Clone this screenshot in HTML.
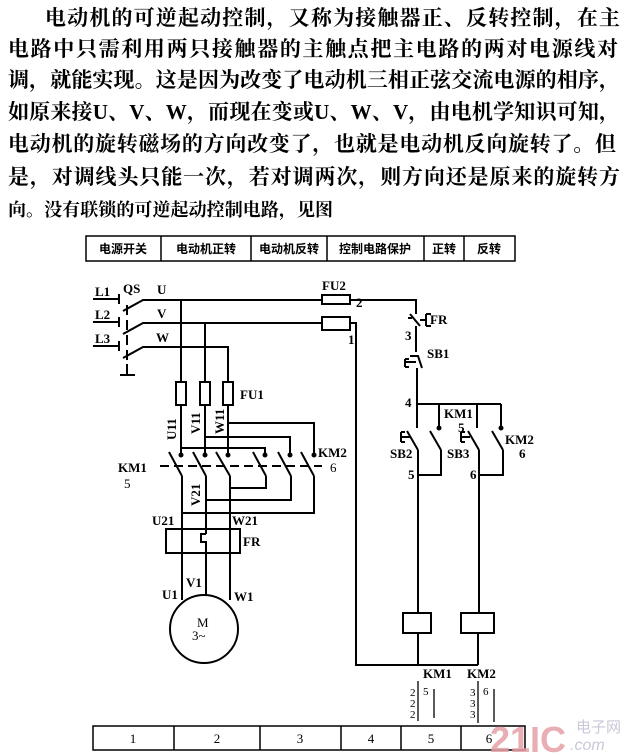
<!DOCTYPE html>
<html><head><meta charset="utf-8"><style>
html,body{margin:0;padding:0;background:#fff;}
svg{display:block;}
.t{font-family:"Liberation Serif","Noto Serif CJK SC",serif;font-size:21px;font-weight:bold;fill:#000;}
.l{font-family:"Liberation Serif",serif;font-size:13px;font-weight:bold;fill:#000;}
.h{font-family:"Liberation Sans","Noto Sans CJK SC",sans-serif;font-size:12px;font-weight:bold;fill:#000;}
</style></head><body>
<svg width="630" height="755" viewBox="0 0 630 755" xmlns="http://www.w3.org/2000/svg">
<g class="t">
<text x="45" y="25" textLength="575" lengthAdjust="spacing">电动机的可逆起动控制，又称为接触器正、反转控制，在主</text>
<text x="8" y="56" textLength="610" lengthAdjust="spacing">电路中只需利用两只接触器的主触点把主电路的两对电源线对</text>
<text x="8" y="87" textLength="612" lengthAdjust="spacing">调，就能实现。这是因为改变了电动机三相正弦交流电源的相序，</text>
<text x="8" y="119" textLength="612" lengthAdjust="spacing">如原来接U、V、W，而现在变或U、W、V，由电机学知识可知，</text>
<text x="8" y="151" textLength="608" lengthAdjust="spacing">电动机的旋转磁场的方向改变了，也就是电动机反向旋转了。但</text>
<text x="8" y="184" textLength="612" lengthAdjust="spacing">是，对调线头只能一次，若对调两次，则方向还是原来的旋转方</text>
<text x="8" y="216" font-size="18" textLength="325" lengthAdjust="spacing">向。没有联锁的可逆起动控制电路，见图</text>
</g>
<g fill="none" stroke="#000" stroke-width="1.5">
<rect x="86" y="236" width="429" height="25"/>
<line x1="161" y1="236" x2="161" y2="261"/><line x1="251" y1="236" x2="251" y2="261"/>
<line x1="327" y1="236" x2="327" y2="261"/><line x1="424" y1="236" x2="424" y2="261"/>
<line x1="464" y1="236" x2="464" y2="261"/>
</g>
<g class="h" text-anchor="middle">
<text x="123" y="253">电源开关</text><text x="206" y="253">电动机正转</text><text x="289" y="253">电动机反转</text>
<text x="375" y="253">控制电路保护</text><text x="444" y="253">正转</text><text x="489" y="253">反转</text>
</g>
<g fill="none" stroke="#000" stroke-width="2">
<line x1="93" y1="299" x2="119" y2="299"/><line x1="119" y1="294" x2="119" y2="304"/>
<line x1="93" y1="322" x2="119" y2="322"/><line x1="119" y1="317" x2="119" y2="327"/>
<line x1="93" y1="346" x2="119" y2="346"/><line x1="119" y1="341" x2="119" y2="351"/>
<polyline points="123,311 143,300 322,300"/>
<polyline points="123,334 143,323 322,323"/>
<polyline points="123,358 143,347 228,347 228,455"/>
<line x1="127" y1="305" x2="127" y2="366" stroke-dasharray="10,5"/>
<line x1="127" y1="364" x2="127" y2="375"/><line x1="120" y1="375" x2="135" y2="375"/>
<line x1="181" y1="300" x2="181" y2="455"/>
<line x1="205" y1="323" x2="205" y2="455"/>
<rect x="176" y="382" width="10" height="23" fill="#fff"/>
<rect x="200" y="382" width="10" height="23" fill="#fff"/>
<rect x="223" y="382" width="10" height="23" fill="#fff"/>
<polyline points="228,423 314,423 314,455"/>
<polyline points="205,437 290,437 290,455"/>
<polyline points="181,448 265,448 265,455"/>
<line x1="169" y1="452" x2="182" y2="476"/><line x1="193" y1="452" x2="206" y2="476"/><line x1="216" y1="452" x2="230" y2="476"/>
<line x1="253" y1="452" x2="266" y2="476"/><line x1="278" y1="452" x2="291" y2="476"/><line x1="301" y1="452" x2="314" y2="476"/>
<line x1="160" y1="466" x2="322" y2="466" stroke-dasharray="9,5"/>
<polyline points="266,476 266,488 230,488"/>
<polyline points="291,476 291,500 206,500"/>
<polyline points="314,476 314,513 182,513"/>
<line x1="182" y1="476" x2="182" y2="600"/>
<line x1="206" y1="476" x2="206" y2="534"/>
<path d="M206,534 h-5 v8 h5 v11"/>
<line x1="206" y1="553" x2="206" y2="595"/>
<line x1="230" y1="476" x2="230" y2="600"/>
<rect x="166" y="529" width="74" height="24"/>
<circle cx="204" cy="629" r="34" fill="#fff"/>
<rect x="322" y="295" width="28" height="9"/>
<rect x="322" y="317" width="28" height="13"/>
<polyline points="350,300 416,300 416,306"/>
<polyline points="350,323 356,323 356,665 478,665"/>
<line x1="416" y1="306" x2="416" y2="314"/><line x1="410" y1="314" x2="420" y2="326"/>
<path d="M420,320 h6 M426,314 v12 M426,314 h5 M426,326 h5 M408,318 h4"/>
<line x1="416" y1="326" x2="416" y2="352"/>
<path d="M410,356 h8 l4,12 M416,362 h-10 M405,359 v8 M405,359 h4 M405,367 h4"/>
<line x1="417" y1="368" x2="417" y2="428"/>
<line x1="416" y1="404" x2="501" y2="404"/>
<line x1="439" y1="404" x2="439" y2="428"/>
<line x1="477" y1="404" x2="477" y2="428"/>
<line x1="501" y1="404" x2="501" y2="428"/>
<line x1="407" y1="431" x2="418" y2="450"/><line x1="430" y1="431" x2="441" y2="450"/>
<line x1="468" y1="431" x2="479" y2="450"/><line x1="492" y1="431" x2="503" y2="450"/>
<path d="M401,432 v10 M401,432 h4 M401,442 h4 M401,437 h9"/>
<path d="M461,432 v10 M461,432 h4 M461,442 h4 M461,437 h9"/>
<polyline points="418,450 418,613"/>
<polyline points="441,450 441,475 418,475"/>
<polyline points="479,450 479,613"/>
<polyline points="503,450 503,475 479,475"/>
<rect x="403" y="613" width="28" height="20"/>
<rect x="461" y="613" width="33" height="20"/>
<line x1="418" y1="633" x2="418" y2="665"/>
<line x1="478" y1="633" x2="478" y2="665"/>
<line x1="418" y1="681" x2="418" y2="721" stroke-width="1.3"/>
<line x1="434" y1="689" x2="434" y2="718" stroke-width="1.3"/>
<line x1="478" y1="681" x2="478" y2="723" stroke-width="1.3"/>
<line x1="494" y1="689" x2="494" y2="722" stroke-width="1.3"/>
<rect x="93" y="726" width="432" height="24" stroke-width="1.5"/>
<path d="M174,726v24M260,726v24M341,726v24M401,726v24M461,726v24" stroke-width="1.5"/>
</g>
<g fill="#000">
<circle cx="181" cy="455" r="2.5"/><circle cx="205" cy="455" r="2.5"/><circle cx="228" cy="455" r="2.5"/>
<circle cx="265" cy="455" r="2.5"/><circle cx="290" cy="455" r="2.5"/><circle cx="314" cy="455" r="2.5"/>
<circle cx="439" cy="428" r="2.5"/><circle cx="501" cy="428" r="2.5"/>
</g>
<g class="l">
<text x="95" y="296">L1</text><text x="95" y="319">L2</text><text x="95" y="343">L3</text>
<text x="123" y="293">QS</text><text x="157" y="294">U</text><text x="157" y="318">V</text><text x="156" y="342">W</text>
<text x="240" y="399">FU1</text>
<text transform="translate(176,440) rotate(-90)">U11</text>
<text transform="translate(200,434) rotate(-90)">V11</text>
<text transform="translate(224,434) rotate(-90)">W11</text>
<text x="118" y="472">KM1</text><text x="124" y="488" font-weight="normal">5</text>
<text x="318" y="457">KM2</text><text x="330" y="472" font-weight="normal">6</text>
<text transform="translate(200,506) rotate(-90)">V21</text>
<text x="152" y="525">U21</text><text x="232" y="525">W21</text>
<text x="243" y="546">FR</text>
<text x="162" y="599">U1</text><text x="186" y="587">V1</text><text x="234" y="601">W1</text>
<text x="197" y="627" font-weight="normal">M</text><text x="192" y="640" font-weight="normal">3~</text>
<text x="322" y="290">FU2</text><text x="356" y="307">2</text><text x="348" y="344">1</text>
<text x="430" y="324">FR</text><text x="405" y="340">3</text><text x="427" y="358">SB1</text>
<text x="405" y="407">4</text>
<text x="444" y="418">KM1</text><text x="458" y="432">5</text>
<text x="390" y="458">SB2</text><text x="447" y="458">SB3</text>
<text x="505" y="444">KM2</text><text x="519" y="458">6</text>
<text x="408" y="479">5</text><text x="470" y="479">6</text>
<text x="423" y="678">KM1</text><text x="467" y="678">KM2</text>
<g font-size="11" font-weight="normal">
<text x="410" y="696">2</text><text x="410" y="707">2</text><text x="410" y="718">2</text><text x="423" y="695">5</text>
<text x="470" y="696">3</text><text x="470" y="707">3</text><text x="470" y="718">3</text><text x="483" y="695">6</text>
</g>
<g font-weight="normal" text-anchor="middle">
<text x="133" y="743">1</text><text x="217" y="743">2</text><text x="300" y="743">3</text>
<text x="371" y="743">4</text><text x="431" y="743">5</text><text x="489" y="743">6</text>
</g>
</g>
<text x="490" y="752" font-family="Liberation Sans,sans-serif" font-size="36" font-weight="bold" fill="#e6a0a8" opacity="0.85">21IC</text>
<text x="576" y="732" font-family="Liberation Sans,Noto Sans CJK SC,sans-serif" font-size="15" fill="#c8c8d8">电子网</text>
<text x="570" y="750" font-family="Liberation Sans,sans-serif" font-size="16" font-style="italic" fill="#c8c8d8">.com</text>
</svg>
</body></html>
